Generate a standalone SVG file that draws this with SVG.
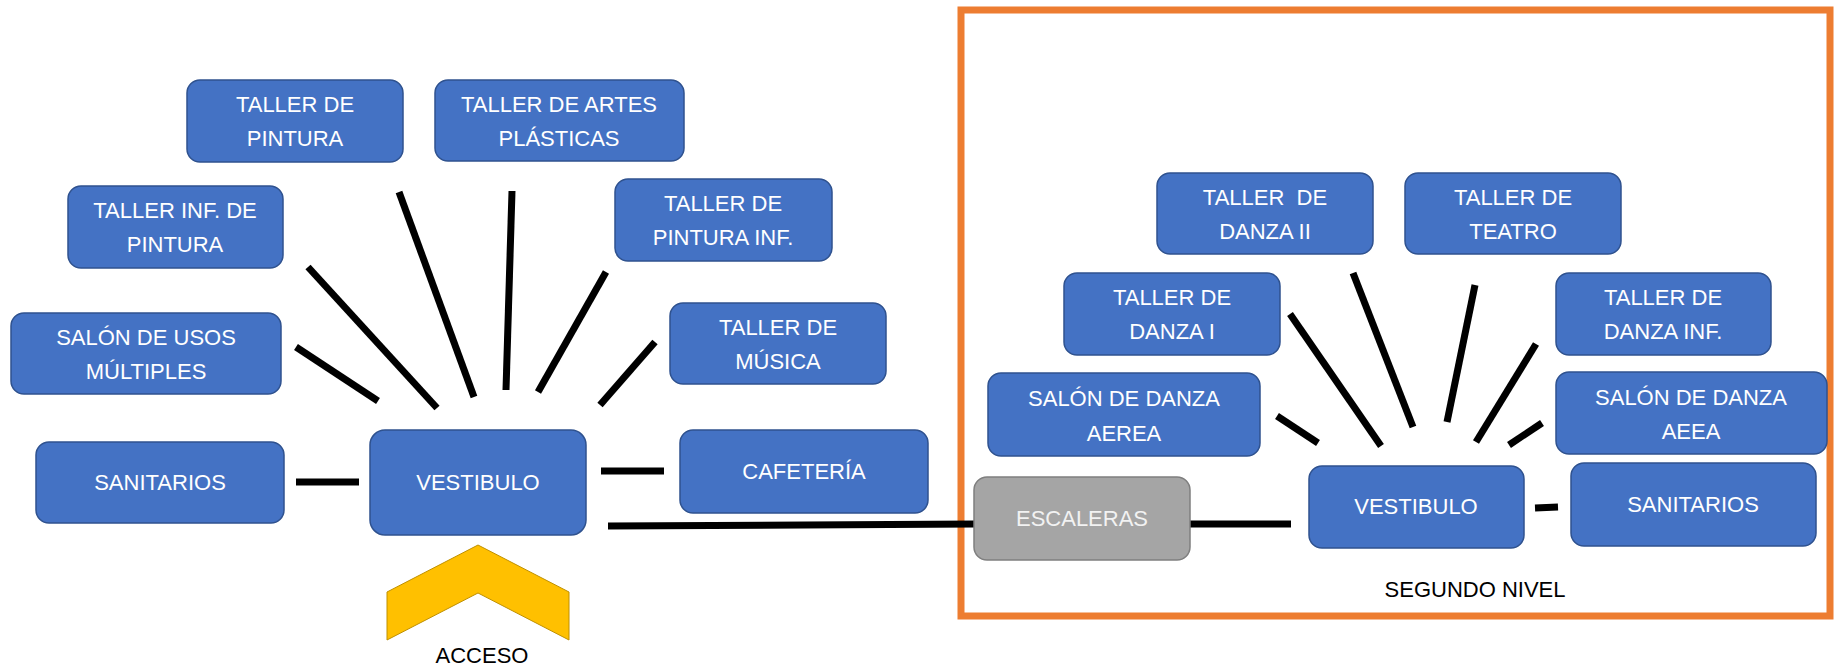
<svg xmlns="http://www.w3.org/2000/svg" width="1837" height="670" viewBox="0 0 1837 670">
<style>
.b{fill:#4472C4;stroke:#2F528F;stroke-width:1.5}
.g{fill:#A5A5A5;stroke:#7F7F7F;stroke-width:1.5}
.t{font-family:"Liberation Sans",Arial,sans-serif;font-size:22px;fill:#FFFFFF;text-anchor:middle;white-space:pre}
.k{font-family:"Liberation Sans",Arial,sans-serif;font-size:22px;fill:#000000;text-anchor:middle}
.c line{stroke:#000000;stroke-width:7}
</style>
<rect width="1837" height="670" fill="#FFFFFF"/>
<rect id="segundo-nivel" x="961" y="10" width="869" height="606" fill="none" stroke="#ED7D31" stroke-width="7"/>
<g class="c" id="connectors">
<line x1="296" y1="347" x2="378" y2="401"/>
<line x1="308" y1="267" x2="437" y2="408"/>
<line x1="399" y1="192" x2="474" y2="397"/>
<line x1="512" y1="191" x2="506" y2="390"/>
<line x1="606" y1="272" x2="538" y2="392"/>
<line x1="655" y1="342" x2="600" y2="405"/>
<line x1="296" y1="482" x2="359" y2="482"/>
<line x1="601" y1="471" x2="664" y2="471"/>
<line x1="608" y1="526" x2="975" y2="524"/>
<line x1="1190" y1="524" x2="1291" y2="524"/>
<line x1="1535" y1="508" x2="1558" y2="507"/>
<line x1="1277" y1="416" x2="1318" y2="443"/>
<line x1="1290" y1="314" x2="1381" y2="446"/>
<line x1="1353" y1="273" x2="1413" y2="427"/>
<line x1="1475" y1="285" x2="1447" y2="422"/>
<line x1="1536" y1="344" x2="1476" y2="442"/>
<line x1="1542" y1="423" x2="1509" y2="445"/>
</g>
<g id="taller-pintura"><rect class="b" x="187" y="80" width="216" height="82" rx="13"/><text class="t" x="295" y="112">TALLER DE</text><text class="t" x="295" y="146">PINTURA</text></g>
<g id="taller-artes"><rect class="b" x="435" y="80" width="249" height="81" rx="13"/><text class="t" x="559" y="112">TALLER DE ARTES</text><text class="t" x="559" y="146">PLÁSTICAS</text></g>
<g id="taller-inf-pintura"><rect class="b" x="68" y="186" width="215" height="82" rx="13"/><text class="t" x="175" y="218">TALLER INF. DE</text><text class="t" x="175" y="252">PINTURA</text></g>
<g id="taller-pintura-inf"><rect class="b" x="615" y="179" width="217" height="82" rx="13"/><text class="t" x="723" y="211">TALLER DE</text><text class="t" x="723" y="245">PINTURA INF.</text></g>
<g id="salon-usos"><rect class="b" x="11" y="313" width="270" height="81" rx="13"/><text class="t" x="146" y="345">SALÓN DE USOS</text><text class="t" x="146" y="379">MÚLTIPLES</text></g>
<g id="taller-musica"><rect class="b" x="670" y="303" width="216" height="81" rx="13"/><text class="t" x="778" y="335">TALLER DE</text><text class="t" x="778" y="369">MÚSICA</text></g>
<g id="sanitarios"><rect class="b" x="36" y="442" width="248" height="81" rx="13"/><text class="t" x="160" y="490">SANITARIOS</text></g>
<g id="vestibulo"><rect class="b" x="370" y="430" width="216" height="105" rx="15"/><text class="t" x="478" y="490">VESTIBULO</text></g>
<g id="cafeteria"><rect class="b" x="680" y="430" width="248" height="83" rx="13"/><text class="t" x="804" y="479">CAFETERÍA</text></g>
<g id="acceso"><polygon points="478,545 569,592 569,640 478,593 387,640 387,592" fill="#FFC000" stroke="#BF9000" stroke-width="1"/><text class="k" x="482" y="663">ACCESO</text></g>
<g id="taller-danza-2"><rect class="b" x="1157" y="173" width="216" height="81" rx="13"/><text class="t" x="1265" y="205">TALLER  DE</text><text class="t" x="1265" y="239">DANZA II</text></g>
<g id="taller-teatro"><rect class="b" x="1405" y="173" width="216" height="81" rx="13"/><text class="t" x="1513" y="205">TALLER DE</text><text class="t" x="1513" y="239">TEATRO</text></g>
<g id="taller-danza-1"><rect class="b" x="1064" y="273" width="216" height="82" rx="13"/><text class="t" x="1172" y="305">TALLER DE</text><text class="t" x="1172" y="339">DANZA I</text></g>
<g id="taller-danza-inf"><rect class="b" x="1556" y="273" width="215" height="82" rx="13"/><text class="t" x="1663" y="305">TALLER DE</text><text class="t" x="1663" y="339">DANZA INF.</text></g>
<g id="salon-danza-aerea"><rect class="b" x="988" y="373" width="272" height="83" rx="13"/><text class="t" x="1124" y="406">SALÓN DE DANZA</text><text class="t" x="1124" y="441">AEREA</text></g>
<g id="salon-danza-aeea"><rect class="b" x="1556" y="372" width="271" height="82" rx="13"/><text class="t" x="1691" y="405">SALÓN DE DANZA</text><text class="t" x="1691" y="439">AEEA</text></g>
<g id="escaleras"><rect class="g" x="974" y="477" width="216" height="83" rx="13"/><text class="t" x="1082" y="526" style="fill:#F2F2F2">ESCALERAS</text></g>
<g id="vestibulo-2"><rect class="b" x="1309" y="466" width="215" height="82" rx="13"/><text class="t" x="1416" y="514">VESTIBULO</text></g>
<g id="sanitarios-2"><rect class="b" x="1571" y="463" width="245" height="83" rx="13"/><text class="t" x="1693" y="512">SANITARIOS</text></g>
<text class="k" x="1475" y="597">SEGUNDO NIVEL</text>
</svg>
